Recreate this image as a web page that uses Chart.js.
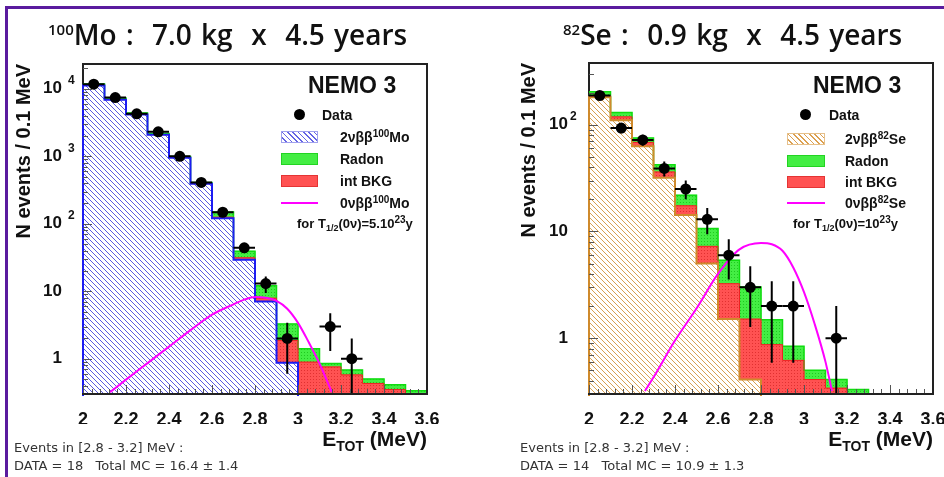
<!DOCTYPE html>
<html>
<head>
<meta charset="utf-8">
<script src="https://cdn.jsdelivr.net/npm/chart.js@4.4.1/dist/chart.umd.min.js"></script>
<style>
  html, body { margin: 0; padding: 0; background: #fff; }
  #page { position: relative; width: 944px; height: 477px; overflow: hidden; background: #fff; font-family: "Liberation Sans", Arial, sans-serif; color: #111; }
  .bar-top { position: absolute; left: 5px; top: 6px; width: 939px; height: 3px; background: #5a1b9e; }
  .bar-left { position: absolute; left: 5px; top: 6px; width: 3px; height: 471px; background: #5a1b9e; }
  canvas { position: absolute; top: 0; }
  #moCanvas { left: 0; }
  #seCanvas { left: 472px; }
  .title { position: absolute; top: 18px; font-family: "Open Sans", "DejaVu Sans", sans-serif; font-weight: 600; font-size: 28px; line-height: 32px; white-space: pre; word-spacing: 2px; }
  .title .up { position: relative; top: -10px; font-size: 15px; word-spacing: 0; }
  .note { position: absolute; font-family: "DejaVu Sans", sans-serif; font-size: 13px; line-height: 18px; color: #333; white-space: pre; }
  .xtitle { position: absolute; top: 427px; font-weight: bold; font-size: 21px; line-height: 24px; white-space: pre; }
  .xtitle .dn { position: relative; top: 5px; font-size: 14px; }
  .nemo { position: absolute; top: 73px; font-weight: bold; font-size: 23px; line-height: 24px; white-space: pre; }
  .lg { position: absolute; font-weight: bold; font-size: 14px; line-height: 16px; white-space: pre; }
  .lg .up { position: relative; top: -5px; font-size: 10px; }
  .lg .dn { position: relative; top: 3px; font-size: 9px; }
  .dot { position: absolute; width: 11px; height: 11px; border-radius: 50%; background: #000; }
  .sw { position: absolute; height: 12px; box-sizing: border-box; }
  .sw.blue { background: repeating-linear-gradient(45deg, #fff 0 2.6px, #6464e4 2.6px 3.8px); border: 1px solid #a0a0ee; }
  .sw.orange { background: repeating-linear-gradient(45deg, #fff 0 2.6px, #dca050 2.6px 3.8px); border: 1px solid #e6c08a; }
  .sw.green { background: #44ee44; border: 1px solid #22d422; }
  .sw.red { background: #ff5252; border: 1px solid #e43434; }
  .mline { position: absolute; height: 2px; background: #ff00ff; }
</style>
</head>
<body>
<div id="page">
  <div class="bar-top"></div>
  <div class="bar-left"></div>

  <canvas id="moCanvas" width="472" height="477"></canvas>
  <canvas id="seCanvas" width="490" height="477"></canvas>

  <div class="title" style="left:48px"><span class="up">100</span>Mo :  7.0 kg  x  4.5 years</div>
  <div class="title" style="left:563px"><span class="up">82</span>Se :  0.9 kg  x  4.5 years</div>

  <!-- 100Mo legend -->
  <div class="nemo" style="left:308px">NEMO 3</div>
  <div class="dot" style="left:294px; top:109px"></div>
  <div class="lg" style="left:322px; top:107px">Data</div>
  <div class="sw blue" style="left:281px; top:131px; width:37px"></div>
  <div class="lg" style="left:340px; top:129px">2νββ<span class="up">100</span>Mo</div>
  <div class="sw green" style="left:281px; top:153px; width:37px"></div>
  <div class="lg" style="left:340px; top:151px">Radon</div>
  <div class="sw red" style="left:281px; top:175px; width:37px"></div>
  <div class="lg" style="left:340px; top:173px">int BKG</div>
  <div class="mline" style="left:281px; top:202px; width:37px"></div>
  <div class="lg" style="left:340px; top:195px">0νββ<span class="up">100</span>Mo</div>
  <div class="lg" style="left:297px; top:216px; font-size:13px">for T<span class="dn">1/2</span>(0ν)=5.10<span class="up">23</span>y</div>

  <!-- 82Se legend -->
  <div class="nemo" style="left:813px">NEMO 3</div>
  <div class="dot" style="left:800px; top:109px"></div>
  <div class="lg" style="left:829px; top:107px">Data</div>
  <div class="sw orange" style="left:787px; top:133px; width:38px"></div>
  <div class="lg" style="left:845px; top:131px">2νββ<span class="up">82</span>Se</div>
  <div class="sw green" style="left:787px; top:155px; width:38px"></div>
  <div class="lg" style="left:845px; top:153px">Radon</div>
  <div class="sw red" style="left:787px; top:176px; width:38px"></div>
  <div class="lg" style="left:845px; top:174px">int BKG</div>
  <div class="mline" style="left:787px; top:202px; width:38px"></div>
  <div class="lg" style="left:845px; top:195px">0νββ<span class="up">82</span>Se</div>
  <div class="lg" style="left:793px; top:216px; font-size:13px">for T<span class="dn">1/2</span>(0ν)=10<span class="up">23</span>y</div>

  <div class="xtitle" style="right:517px">E<span class="dn">TOT</span> (MeV)</div>
  <div class="xtitle" style="right:11px">E<span class="dn">TOT</span> (MeV)</div>

  <div class="note" style="left:14px; top:439px">Events in [2.8 - 3.2] MeV :
DATA = 18   Total MC = 16.4 ± 1.4</div>
  <div class="note" style="left:520px; top:439px">Events in [2.8 - 3.2] MeV :
DATA = 14   Total MC = 10.9 ± 1.3</div>
</div>

<script>
// energy bins, 0.1 MeV wide
const binEdges = [2.0, 2.1, 2.2, 2.3, 2.4, 2.5, 2.6, 2.7, 2.8, 2.9, 3.0, 3.1, 3.2, 3.3, 3.4, 3.5, 3.6];

// 100Mo
const moData    = [11700, 7400, 4250, 2300, 1000, 410, 148, 44, 13, 2, 0, 3, 1, 0, 0, 0];
const moDataErr = [108, 86, 65, 48, 32, 20, 12, 6.6, 3.6, 1.4, 0, 1.7, 1.0, 0, 0, 0];
const mo2nu     = [11200, 6900, 4150, 2080, 950, 390, 121, 29.4, 7.06, 0.87, 0, 0, 0, 0, 0, 0];
const moIntBkg  = [30, 20, 15, 10, 6, 3, 4, 1.9, 0.84, 0.99, 0.89, 0.755, 0.575, 0.43, 0.35, 0];
const moRadon   = [570, 380, 225, 90, 34, 17, 24, 7.9, 4.2, 1.41, 0.51, 0.095, 0.105, 0.07, 0.06, 0.335];
const moZeroNuE = [2.126, 2.2, 2.3, 2.4, 2.5, 2.6, 2.7, 2.75, 2.8, 2.85, 2.9, 2.95, 3.0, 3.05, 3.1, 3.157];
const moZeroNu  = [0.32, 0.49, 0.86, 1.51, 2.65, 4.5, 6.4, 7.5, 8.2, 8.0, 7.2, 5.5, 3.4, 1.75, 0.85, 0.32];
const moYTicks    = [1, 10, 100, 1000, 10000];
const moYTickText = ['1', '10', '10^2', '10^3', '10^4'];

// 82Se
const seData    = [188, 93, 72, 39, 25, 13, 6, 3, 2, 2, 0, 1, 0, 0, 0, 0];
const seDataErr = [13.7, 9.6, 8.5, 6.2, 5.0, 3.6, 2.45, 1.73, 1.41, 1.41, 0, 1.0, 0, 0, 0, 0];
const se2nu     = [181, 110, 62.8, 31.9, 14.3, 5.0, 1.51, 0.41, 0, 0, 0, 0, 0, 0, 0, 0];
const seIntBkg  = [6, 8.5, 5.6, 4.2, 3.1, 2.26, 1.73, 1.10, 0.87, 0.62, 0.41, 0.34, 0, 0, 0, 0];
const seRadon   = [17, 11.5, 6.7, 6.1, 4.5, 3.4, 2.14, 1.51, 0.62, 0.22, 0.09, 0.07, 0.33, 0, 0, 0];
const seZeroNuE = [2.26, 2.3, 2.4, 2.5, 2.6, 2.7, 2.8, 2.85, 2.9, 2.95, 3.0, 3.05, 3.1, 3.13];
const seZeroNu  = [0.32, 0.43, 0.95, 1.9, 4.0, 6.8, 7.8, 7.6, 6.6, 4.6, 2.7, 1.35, 0.6, 0.32];
const seYTicks    = [1, 10, 100];
const seYTickText = ['1', '10', '10^2'];

// anything below the axis minimum, used as the floor of the stack
const FLOOR = 0.01;
const binCenters = binEdges.slice(0, -1).map((e, i) => (e + binEdges[i + 1]) / 2);

Chart.defaults.font.family = '"Liberation Sans", Arial, sans-serif';
Chart.defaults.color = '#111';

function hatch(line, size) {
  const c = document.createElement('canvas');
  c.width = c.height = size;
  const g = c.getContext('2d');
  g.fillStyle = '#fff';
  g.fillRect(0, 0, size, size);
  g.strokeStyle = line;
  g.lineWidth = 1;
  g.beginPath();
  g.moveTo(-1, -1); g.lineTo(size + 1, size + 1);
  g.moveTo(-1, size - 1); g.lineTo(1, size + 1);
  g.moveTo(size - 1, -1); g.lineTo(size + 1, 1);
  g.stroke();
  return g.createPattern(c, 'repeat');
}

function texture(base, dot) {
  const c = document.createElement('canvas');
  c.width = c.height = 3;
  const g = c.getContext('2d');
  g.fillStyle = base;
  g.fillRect(0, 0, 3, 3);
  g.fillStyle = dot;
  g.fillRect(1, 1, 1, 1);
  return g.createPattern(c, 'repeat');
}

const greenFill = texture('#44ee44', '#20c820');
const redFill = texture('#ff5252', '#e03030');

function stackBars(lower, values) {
  return binCenters.map((c, i) => {
    const lo = lower[i] > 0 ? lower[i] : FLOOR;
    return { x: c, y: [lo, values[i] > 0 ? lower[i] + values[i] : lo] };
  });
}

function stepLine(levels) {
  const pts = [{ x: binEdges[0], y: FLOOR }];
  levels.forEach((v, i) => pts.push({ x: binEdges[i], y: v > 0 ? v : FLOOR }));
  const last = levels[levels.length - 1];
  pts.push({ x: binEdges[binEdges.length - 1], y: last > 0 ? last : FLOOR });
  return pts;
}

// frame, inner tick marks, decade labels and data error bars
function panelPlugin(p) {
  return {
    id: 'panel',
    beforeDatasetsDraw(chart) {
      const { ctx, chartArea: a } = chart;
      ctx.save();
      ctx.strokeStyle = '#222';
      ctx.lineWidth = 2;
      ctx.beginPath();
      ctx.moveTo(a.left, a.top - 1);
      ctx.lineTo(a.left, a.bottom + 1);
      ctx.stroke();
      ctx.restore();
    },
    afterDatasetsDraw(chart) {
      const { ctx, chartArea: a, scales: { x, y } } = chart;
      ctx.save();

      // error bars
      ctx.save();
      ctx.beginPath();
      ctx.rect(a.left, a.top, a.right - a.left, a.bottom - a.top);
      ctx.clip();
      ctx.strokeStyle = '#000';
      ctx.lineWidth = 2;
      p.data.forEach((v, i) => {
        if (!(v > 0)) return;
        const yv = y.getPixelForValue(v);
        const lo = v - p.err[i];
        ctx.beginPath();
        ctx.moveTo(x.getPixelForValue(binEdges[i]), yv);
        ctx.lineTo(x.getPixelForValue(binEdges[i + 1]), yv);
        ctx.moveTo(x.getPixelForValue(binCenters[i]), y.getPixelForValue(v + p.err[i]));
        ctx.lineTo(x.getPixelForValue(binCenters[i]), lo > 0 ? y.getPixelForValue(lo) : a.bottom + 2);
        ctx.stroke();
      });
      ctx.restore();

      // inner ticks
      ctx.strokeStyle = '#555';
      ctx.lineWidth = 1;
      ctx.beginPath();
      for (let k = 0; k <= 40; k++) {
        const px = Math.round(x.getPixelForValue(2 + k * 0.04)) + 0.5;
        const len = k % 5 === 0 ? 9 : 5;
        ctx.moveTo(px, a.bottom);
        ctx.lineTo(px, a.bottom - len);
      }
      for (let d = -1; d <= 5; d++) {
        for (let m = 1; m <= 9; m++) {
          const v = m * Math.pow(10, d);
          if (v < y.min || v > y.max) continue;
          const py = Math.round(y.getPixelForValue(v)) + 0.5;
          ctx.moveTo(a.left, py);
          ctx.lineTo(a.left + (m === 1 ? 9 : 5), py);
        }
      }
      ctx.stroke();

      // frame
      ctx.strokeStyle = '#222';
      ctx.lineWidth = 2;
      ctx.beginPath();
      ctx.moveTo(a.left - 1, a.top);
      ctx.lineTo(a.right, a.top);
      ctx.lineTo(a.right, a.bottom);
      ctx.lineTo(a.left - 1, a.bottom);
      ctx.stroke();

      // decade labels
      ctx.fillStyle = '#111';
      ctx.textBaseline = 'middle';
      p.ticks.forEach((v, i) => {
        const [base, exp] = p.tickText[i].split('^');
        const py = y.getPixelForValue(v);
        const right = a.left - 21;
        ctx.font = 'bold 17px "Liberation Sans", Arial, sans-serif';
        ctx.textAlign = 'right';
        ctx.fillText(base, right, py);
        if (exp) {
          ctx.font = 'bold 12px "Liberation Sans", Arial, sans-serif';
          ctx.textAlign = 'left';
          ctx.fillText(exp, right + p.expGap, py - 8);
        }
      });
      ctx.restore();
    }
  };
}

function makePanel(canvasId, cfg) {
  const lvlRed = cfg.twoNu.map((v, i) => v + cfg.bkg[i]);
  const lvlGreen = lvlRed.map((v, i) => v + cfg.radon[i]);

  return new Chart(document.getElementById(canvasId), {
    type: 'bar',
    data: {
      datasets: [
        {
          label: 'Data', type: 'line', order: 1, showLine: false,
          data: binCenters.map((c, i) => ({ x: c, y: cfg.data[i] > 0 ? cfg.data[i] : null })),
          pointRadius: 5.5, pointHoverRadius: 5.5, pointBackgroundColor: '#000', pointBorderWidth: 0
        },
        {
          label: '0vbb', type: 'line', order: 2,
          data: cfg.zeroNuE.map((e, i) => ({ x: e, y: cfg.zeroNu[i] })),
          borderColor: '#ff00ff', borderWidth: 2, pointRadius: 0, cubicInterpolationMode: 'monotone', fill: false
        },
        {
          label: '2vbb outline', type: 'line', order: 4, stepped: true, clip: 2,
          data: stepLine(cfg.twoNu), borderColor: cfg.twoNuLine, borderWidth: 2, pointRadius: 0, fill: false
        },
        {
          label: 'int BKG outline', type: 'line', order: 5, stepped: true,
          data: stepLine(lvlRed), borderColor: '#ee2222', borderWidth: 1, pointRadius: 0, fill: false
        },
        {
          label: 'Radon outline', type: 'line', order: 6, stepped: true,
          data: stepLine(lvlGreen), borderColor: '#10dd10', borderWidth: 1.5, pointRadius: 0, fill: false
        },
        { label: '2vbb', order: 10, data: stackBars(cfg.twoNu.map(() => 0), cfg.twoNu), backgroundColor: cfg.twoNuFill },
        { label: 'int BKG', order: 11, data: stackBars(cfg.twoNu, cfg.bkg), backgroundColor: redFill },
        { label: 'Radon', order: 12, data: stackBars(lvlRed, cfg.radon), backgroundColor: greenFill }
      ]
    },
    options: {
      responsive: false,
      animation: false,
      events: [],
      layout: { padding: cfg.padding },
      datasets: { bar: { barPercentage: 1, categoryPercentage: 1, grouped: false, borderWidth: 0 } },
      plugins: { legend: { display: false }, tooltip: { enabled: false } },
      scales: {
        x: {
          type: 'linear', min: 2, max: 3.6, offset: false,
          grid: { display: false }, border: { display: false },
          ticks: {
            stepSize: 0.2, autoSkip: false, maxRotation: 0, padding: 7, color: '#111',
            font: { size: 18, weight: 'bold' },
            callback: (v) => String(Number(v.toFixed(1)))
          },
          afterFit(s) { s.height = 30; }
        },
        y: {
          type: 'logarithmic', min: cfg.yMin, max: cfg.yMax,
          grid: { display: false }, border: { display: false },
          ticks: { display: false },
          title: {
            display: true, text: 'N events / 0.1 MeV', align: 'end', color: '#111',
            font: { size: 20, weight: 'bold' }, padding: { top: cfg.titlePad, bottom: 0 }
          },
          afterFit(s) { s.width = cfg.yWidth; }
        }
      }
    },
    plugins: [panelPlugin({ data: cfg.data, err: cfg.dataErr, ticks: cfg.yTicks, tickText: cfg.yTickText, expGap: cfg.expGap })]
  });
}

makePanel('moCanvas', {
  data: moData, dataErr: moDataErr, twoNu: mo2nu, bkg: moIntBkg, radon: moRadon,
  zeroNuE: moZeroNuE, zeroNu: moZeroNu, yTicks: moYTicks, yTickText: moYTickText,
  twoNuFill: hatch('#5a5ae0', 5), twoNuLine: '#1c1cf2',
  yMin: 0.32, yMax: 23300, yWidth: 83, titlePad: 12.5, expGap: 6,
  padding: { left: 0, top: 64, right: 45, bottom: 53 }
});

makePanel('seCanvas', {
  data: seData, dataErr: seDataErr, twoNu: se2nu, bkg: seIntBkg, radon: seRadon,
  zeroNuE: seZeroNuE, zeroNu: seZeroNu, yTicks: seYTicks, yTickText: seYTickText,
  twoNuFill: hatch('#d9a050', 5), twoNuLine: '#cf8a2c',
  yMin: 0.32, yMax: 379, yWidth: 117, titlePad: 45, expGap: 2,
  padding: { left: 0, top: 63, right: 29, bottom: 53 }
});
</script>
</body>
</html>
